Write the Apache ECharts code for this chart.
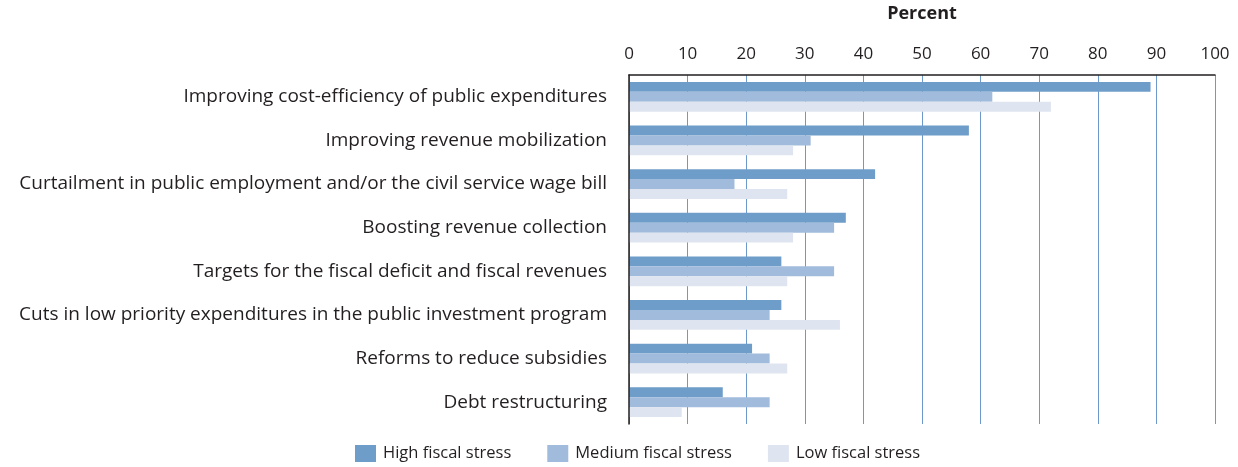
<!DOCTYPE html>
<html><head><meta charset="utf-8">
<script src="https://cdn.jsdelivr.net/npm/echarts@6/dist/echarts.min.js"></script>
<style>html,body{margin:0;padding:0;background:#fff}#c{width:1238px;height:467px}</style>
</head><body><div id="c"></div>
<script>
const categories = [
  "Improving cost-efficiency of public expenditures",
  "Improving revenue mobilization",
  "Curtailment in public employment and/or the civil service wage bill",
  "Boosting revenue collection",
  "Targets for the fiscal deficit and fiscal revenues",
  "Cuts in low priority expenditures in the public investment program",
  "Reforms to reduce subsidies",
  "Debt restructuring"
];
const seriesNames = ["High fiscal stress", "Medium fiscal stress", "Low fiscal stress"];
const highValues = [89, 58, 42, 37, 26, 26, 21, 16];
const mediumValues = [62, 31, 18, 35, 35, 24, 24, 24];
const lowValues = [72, 28, 27, 28, 27, 36, 27, 9];
const xTicks = { min: 0, max: 100, interval: 10 };

const FONT = 'Open Sans';
const TXT = '#231f20';
const chart = echarts.init(document.getElementById('c'), null, {renderer: 'canvas'});
chart.setOption({
  animation: false,
  textStyle: { fontFamily: FONT },
  grid: { left: 629, right: 23, top: 71, bottom: 43, containLabel: false },
  legend: {
    bottom: 0, left: 350,
    itemWidth: 21, itemHeight: 17, itemGap: 36,
    icon: 'rect',
    textStyle: { fontFamily: FONT, fontSize: 16.5, color: TXT, padding: [0, 0, 0, 2] },
    data: seriesNames
  },
  xAxis: {
    type: 'value', position: 'top',
    min: xTicks.min, max: xTicks.max, interval: xTicks.interval,
    name: 'Percent', nameLocation: 'middle', nameGap: 52,
    nameTextStyle: { fontFamily: FONT, fontSize: 18, fontWeight: 'bold', color: TXT },
    axisLine: { show: true, onZero: false, lineStyle: { color: '#231f20', width: 1.5 } },
    axisTick: { show: false },
    axisLabel: { fontFamily: FONT, fontSize: 17, color: TXT, margin: 12 },
    splitLine: { show: true, lineStyle: { color: '#6b9acb', width: 1 } }
  },
  yAxis: {
    type: 'category', inverse: true, data: categories, z: 5,
    axisLine: { show: true, lineStyle: { color: '#231f20', width: 1.5 } },
    axisTick: { show: false },
    axisLabel: { fontFamily: FONT, fontSize: 19, color: TXT, margin: 22 }
  },
  series: [
    { name: seriesNames[0], type: 'bar', data: highValues, itemStyle: { color: '#6f9dc9' }, barGap: '0%', barCategoryGap: '32%' },
    { name: seriesNames[1], type: 'bar', data: mediumValues, itemStyle: { color: '#a0bbdc' }, barGap: '0%', barCategoryGap: '32%' },
    { name: seriesNames[2], type: 'bar', data: lowValues, itemStyle: { color: '#dfe5f0' }, barGap: '0%', barCategoryGap: '32%' }
  ]
});
</script></body></html>
